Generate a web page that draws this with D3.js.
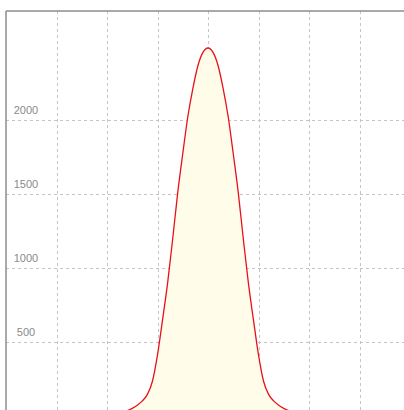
<!DOCTYPE html>
<html>
<head>
<meta charset="utf-8">
<script src="https://cdn.jsdelivr.net/npm/d3@7/dist/d3.min.js"></script>
<style>
  html, body { margin: 0; padding: 0; background: #fff; }
  svg { display: block; }
</style>
</head>
<body>
<svg id="chart" width="404" height="410"></svg>
<script>
// Density profile: position (grid units from centre) and count
const positions = [-4, -3, -2.5, -2, -1.8, -1.7, -1.6, -1.5, -1.4, -1.3, -1.2, -1.1, -1.0, -0.9, -0.8, -0.7, -0.6, -0.5, -0.4, -0.3, -0.2, -0.1, 0,
                   0.1, 0.2, 0.3, 0.4, 0.5, 0.6, 0.7, 0.8, 0.9, 1.0, 1.1, 1.2, 1.3, 1.4, 1.5, 1.6, 1.7, 1.8, 2, 2.5, 3, 4];
const counts    = [0, 0, 1, 8, 18, 27, 38, 54, 75, 104, 148, 237, 415, 652, 900, 1197, 1510, 1775, 2025, 2216, 2370, 2460, 2490,
                   2460, 2370, 2216, 2025, 1775, 1510, 1197, 900, 652, 415, 237, 148, 104, 75, 54, 38, 27, 18, 8, 1, 0, 0];
const yTicks = [500, 1000, 1500, 2000];
const xGrid = [-3, -2, -1, 0, 1, 2, 3];

const svg = d3.select("#chart");
const W = 404, H = 410;
const padLeft = 6, padTop = 11;

const x = d3.scaleLinear().domain([-4, 4]).range([padLeft, 410]);
const y = d3.scaleLinear().domain([0, 2740]).range([416.3, padTop]);

const data = positions.map((p, i) => ({ p, c: counts[i] }));

// grid lines
const grid = svg.append("g").attr("stroke", "#c4c4c4").attr("stroke-width", 1).attr("stroke-dasharray", "3,3");
grid.selectAll("line.v").data(xGrid).join("line")
  .attr("class", "v")
  .attr("x1", d => Math.round(x(d)) + 0.5).attr("x2", d => Math.round(x(d)) + 0.5)
  .attr("y1", padTop).attr("y2", H);
grid.selectAll("line.h").data(yTicks).join("line")
  .attr("class", "h")
  .attr("y1", d => Math.round(y(d)) + 0.5).attr("y2", d => Math.round(y(d)) + 0.5)
  .attr("x1", padLeft).attr("x2", W);

// filled area and curve
const area = d3.area().x(d => x(d.p)).y0(y(0)).y1(d => y(d.c)).curve(d3.curveMonotoneX);
const line = d3.line().x(d => x(d.p)).y(d => y(d.c)).curve(d3.curveMonotoneX);

svg.append("path").datum(data).attr("d", area).attr("fill", "#fffdea");
svg.append("path").datum(data).attr("d", line)
  .attr("fill", "none").attr("stroke", "#e8101a").attr("stroke-width", 1.3);

// tick labels
svg.append("g").selectAll("text").data(yTicks).join("text")
  .attr("x", 26).attr("y", d => y(d) - 6)
  .attr("text-anchor", "middle")
  .attr("font-family", "Liberation Sans, Arial, sans-serif")
  .attr("font-size", 11)
  .attr("fill", "#8a8a8a")
  .text(d => d);

// frame: left and top
svg.append("line").attr("x1", padLeft).attr("x2", padLeft).attr("y1", padTop).attr("y2", H)
  .attr("stroke", "#8c8c8c").attr("stroke-width", 1.5);
svg.append("line").attr("x1", padLeft).attr("x2", W).attr("y1", padTop).attr("y2", padTop)
  .attr("stroke", "#8c8c8c").attr("stroke-width", 1.5);
</script>
</body>
</html>
